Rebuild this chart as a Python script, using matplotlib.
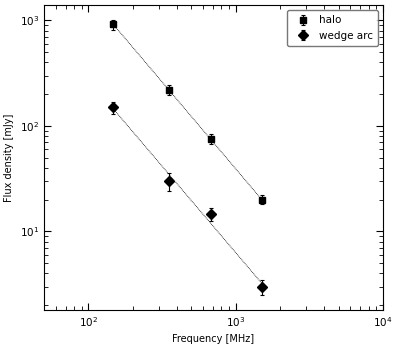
import numpy as np
import matplotlib
matplotlib.use("Agg")
import matplotlib.pyplot as plt

freq = [147, 352, 678, 1500]
halo = [920, 220, 75, 20]
halo_err = [100, 25, 8, 2]
wedge = [150, 30, 14.6, 3.0]
wedge_err = [20, 6, 2, 0.5]

plt.rcParams['font.family'] = ['DejaVu Sans']
fig = plt.figure(figsize=(3.98, 3.47), dpi=100)
ax = fig.add_axes([44/398, 1-310/347, (383-44)/398, (310-5)/347])

f = np.array(freq, float)
for y in (halo, wedge):
    p = np.polyfit(np.log10(f), np.log10(y), 1)
    xx = np.array([f[0], f[-1]])
    ax.plot(xx, 10**np.polyval(p, np.log10(xx)), linestyle=(0, (1, 1)),
            color='black', lw=0.6)

ax.errorbar(freq, halo, yerr=halo_err, fmt='s', color='black', ms=5,
            elinewidth=0.8, capsize=1.5, capthick=0.8, label='halo')
ax.errorbar(freq, wedge, yerr=wedge_err, fmt='D', color='black', ms=5,
            elinewidth=0.8, capsize=1.5, capthick=0.8, label='wedge arc')

ax.set_xscale('log')
ax.set_yscale('log')
ax.set_xlim(50, 10000)
ax.set_ylim(1.8, 1400)
ax.tick_params(which='both', direction='in', top=True, right=True, labelsize=7.5)
ax.tick_params(which='major', length=5)
ax.tick_params(which='minor', length=3)
ax.set_xlabel('Frequency [MHz]', fontsize=7)
ax.set_ylabel('Flux density [mJy]', fontsize=7)
leg = ax.legend(loc='upper right', fontsize=7.5, numpoints=1, handletextpad=0.5,
                borderpad=0.5, fancybox=True)
leg.get_frame().set_edgecolor('#555555')
fig.savefig('out.png', dpi=100)
